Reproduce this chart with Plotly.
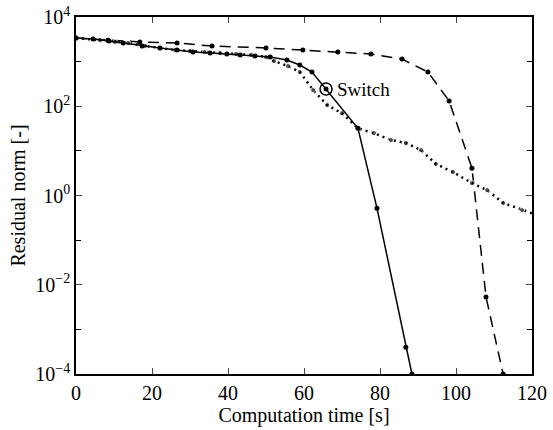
import math
import plotly.graph_objects as go

# Solid series (switching strategy)
solid_x = [0, 4.5, 8.7, 12.4, 17.4, 22.1, 26.6, 30.8, 35.3, 39.7, 43.2, 47.1, 51.1, 55.5, 58.9, 62.1, 65.8, 74.2, 79.2, 86.8, 88.4]
solid_y = [3380, 3210, 2900, 2610, 2240, 2020, 1820, 1640, 1560, 1480, 1410, 1340, 1270, 1090, 840, 585, 243, 32, 0.52, 4.0e-4, 1.0e-4]

# Dashed series
dash_x = [0, 8.4, 16.8, 26.6, 35.8, 50.0, 59.7, 68.9, 77.6, 85.8, 92.6, 98.2, 104.2, 107.9, 112.4]
dash_y = [3380, 3000, 2760, 2610, 2240, 2020, 1820, 1640, 1480, 1140, 585, 131, 4.1, 5.3e-3, 1.0e-4]

# Dotted series
dot_x = [0, 6.3, 10.3, 13.7, 18.2, 22.1, 26.1, 30.0, 33.9, 37.9, 42.1, 46.1, 50.0, 52.1, 55.8, 58.9, 62.4, 66.1, 70.0, 74.2,
         78.4, 82.9, 86.8, 90.8, 94.7, 99.2, 104.2, 108.2, 112.4, 117.4, 120]
dot_y = [3380, 3050, 2750, 2610, 2240, 2020, 1820, 1730, 1640, 1560, 1480, 1410, 1270, 1030, 796, 585, 231, 106, 70, 32,
         25, 17.5, 15, 10.4, 5.1, 3.35, 1.9, 1.32, 0.68, 0.47, 0.40]

switch_x = [65.8]
switch_y = [243]
switch_label = "Switch"

x_ticks = [0, 20, 40, 60, 80, 100, 120]
y_major = [1e4, 1e2, 1e0, 1e-2, 1e-4]
y_major_text = ["10<sup>4</sup>", "10<sup>2</sup>", "10<sup>0</sup>", "10<sup>\u22122</sup>", "10<sup>\u22124</sup>"]
y_minor = [1e3, 1e1, 1e-1, 1e-3]

FONT = "Liberation Serif"
fig = go.Figure()

fig.add_trace(go.Scatter(x=dash_x, y=dash_y, mode="lines+markers",
                         line=dict(color="black", width=1.5, dash="11px,7px"),
                         marker=dict(color="black", size=5)))
dot_sizes = [5] * (len(dot_x) - 1) + [0]
fig.add_trace(go.Scatter(x=dot_x, y=dot_y, mode="lines+markers",
                         line=dict(color="black", width=2.5, dash="2px,4px"),
                         marker=dict(color="black", size=dot_sizes)))
fig.add_trace(go.Scatter(x=solid_x, y=solid_y, mode="lines+markers",
                         line=dict(color="black", width=1.5),
                         marker=dict(color="black", size=5)))
fig.add_trace(go.Scatter(x=switch_x, y=switch_y, mode="markers",
                         marker=dict(symbol="circle-open", color="black", size=12, line=dict(width=1.5))))

fig.add_annotation(x=switch_x[0] + 2.4, y=math.log10(switch_y[0]), yref="y", text=switch_label, showarrow=False,
                   xanchor="left", yanchor="middle", font=dict(family=FONT, size=19, color="black"))

fig.update_layout(
    width=553, height=430,
    margin=dict(l=76, r=21, t=17, b=56),
    paper_bgcolor="white", plot_bgcolor="white",
    showlegend=False,
    font=dict(family=FONT, size=19, color="black"),
)
fig.update_xaxes(range=[0, 120], tickvals=x_ticks, ticks="inside", ticklen=6, tickwidth=1,
                 showline=True, linecolor="black", linewidth=1.5, mirror="allticks",
                 showgrid=False, zeroline=False, automargin=False, ticklabeloverflow="allow",
                 title=dict(text="Computation time [s]", standoff=2, font=dict(family=FONT, size=20)),
                 tickfont=dict(family=FONT, size=20))
fig.update_yaxes(type="log", range=[-4, 4], tickvals=y_major, ticktext=y_major_text,
                 ticks="inside", ticklen=6, tickwidth=1,
                 minor=dict(tickvals=y_minor, ticks="inside", ticklen=5, tickcolor="black"),
                 showline=True, linecolor="black", linewidth=1.5, mirror="allticks",
                 showgrid=False, zeroline=False, automargin=False, ticklabeloverflow="allow",
                 title=dict(text="Residual norm [-]", standoff=4, font=dict(family=FONT, size=20)),
                 tickfont=dict(family=FONT, size=20))

fig.write_html("out.html", config={"displayModeBar": False},
               post_script="document.body.style.margin='0';document.body.style.overflow='hidden';")
